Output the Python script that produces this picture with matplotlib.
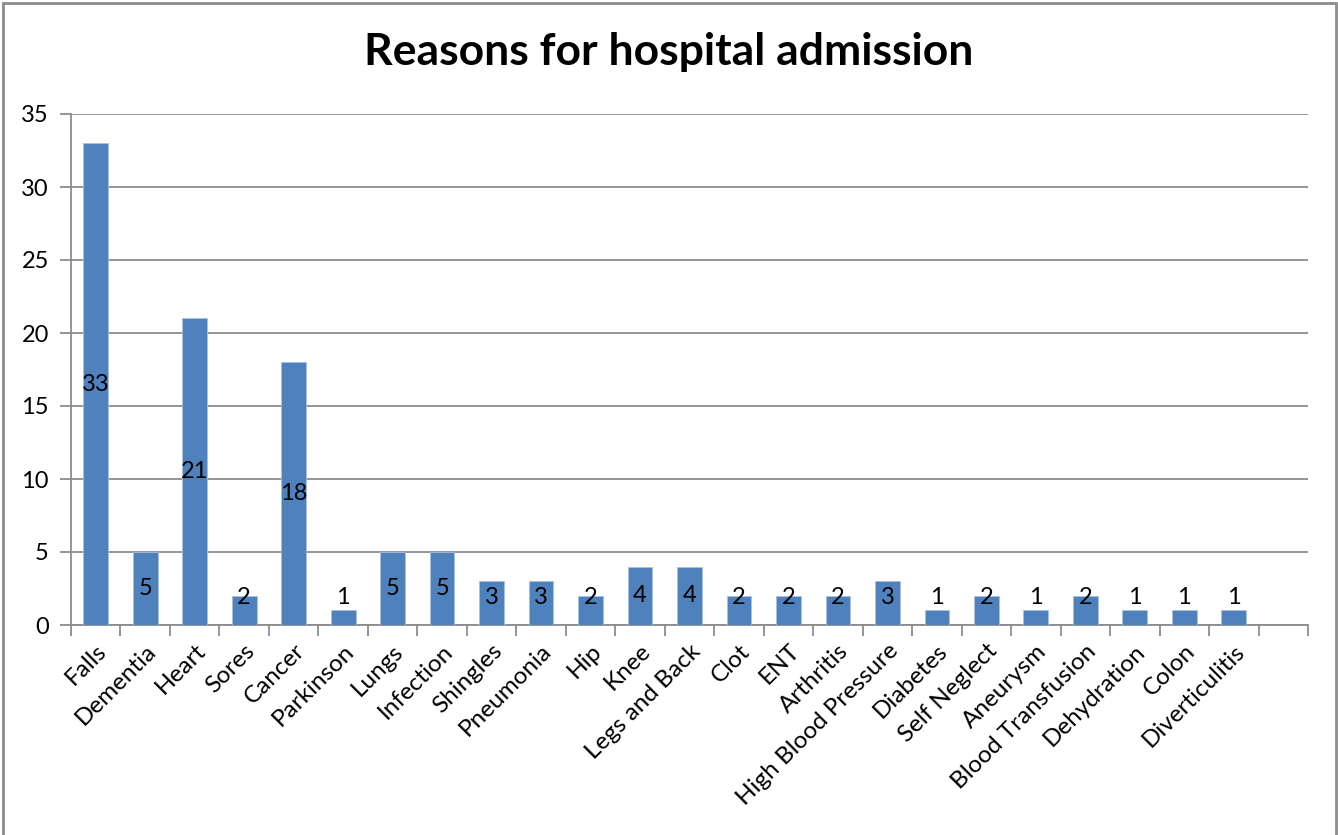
import matplotlib
matplotlib.use("Agg")
import matplotlib.pyplot as plt
from matplotlib.patches import Rectangle
import numpy as np

categories = ["Falls", "Dementia", "Heart", "Sores", "Cancer", "Parkinson", "Lungs",
              "Infection", "Shingles", "Pneumonia", "Hip", "Knee", "Legs and Back",
              "Clot", "ENT", "Arthritis", "High Blood Pressure", "Diabetes",
              "Self Neglect", "Aneurysm", "Blood Transfusion", "Dehydration",
              "Colon", "Diverticulitis"]
values = [33, 5, 21, 2, 18, 1, 5, 5, 3, 3, 2, 4, 4, 2, 2, 2, 3, 1, 2, 1, 2, 1, 1, 1]
n_slots = 25  # one empty slot at the end of the category axis

plt.rcParams['font.family'] = ['Lato', 'DejaVu Sans']

fig = plt.figure(figsize=(13.38, 8.35), dpi=100)
ax = fig.add_axes([71/1338, 1-625/835, (1308-71)/1338, (625-114)/835])

x = np.arange(len(categories))
ax.bar(x, values, width=0.5, color='#4F81BD', edgecolor='#A9C1E0', linewidth=0.6, zorder=3)

for xi, v in zip(x, values):
    ax.text(xi, max(v / 2, 1.9), str(v), ha='center', va='center', fontsize=17, zorder=4)

ax.set_xlim(-0.5, n_slots - 0.5)
ax.set_ylim(0, 35)
ax.set_yticks(np.arange(0, 36, 5))
ax.yaxis.grid(True, color='#8C8C8C', linewidth=1.3, zorder=0)
ax.set_axisbelow(True)

ax.set_xticks(np.arange(-0.5, n_slots, 1))
ax.set_xticklabels([])
ax.set_xticks(x, minor=True)
ax.set_xticklabels(categories, minor=True, rotation=45, ha='right', rotation_mode='anchor', fontsize=17.5)
ax.tick_params(axis='x', which='major', length=8, width=1.3, color='#8C8C8C', direction='out')
ax.tick_params(axis='x', which='minor', length=0, pad=11)
ax.tick_params(axis='y', length=8, width=1.3, color='#8C8C8C', labelsize=17, pad=8)

for s in ['top', 'right']:
    ax.spines[s].set_visible(False)
for s in ['left', 'bottom']:
    ax.spines[s].set_color('#8C8C8C')
    ax.spines[s].set_linewidth(1.3)

fig.text(0.5, 1-52/835, "Reasons for hospital admission", ha='center', va='center',
         fontsize=32, fontweight='bold')

fig.patches.append(Rectangle((2.5/1338, -0.01), 1333/1338, 1.01 - 2.5/835, transform=fig.transFigure,
                             fill=False, edgecolor='#8C8C8C', linewidth=2))

fig.savefig("out.png", dpi=100)
